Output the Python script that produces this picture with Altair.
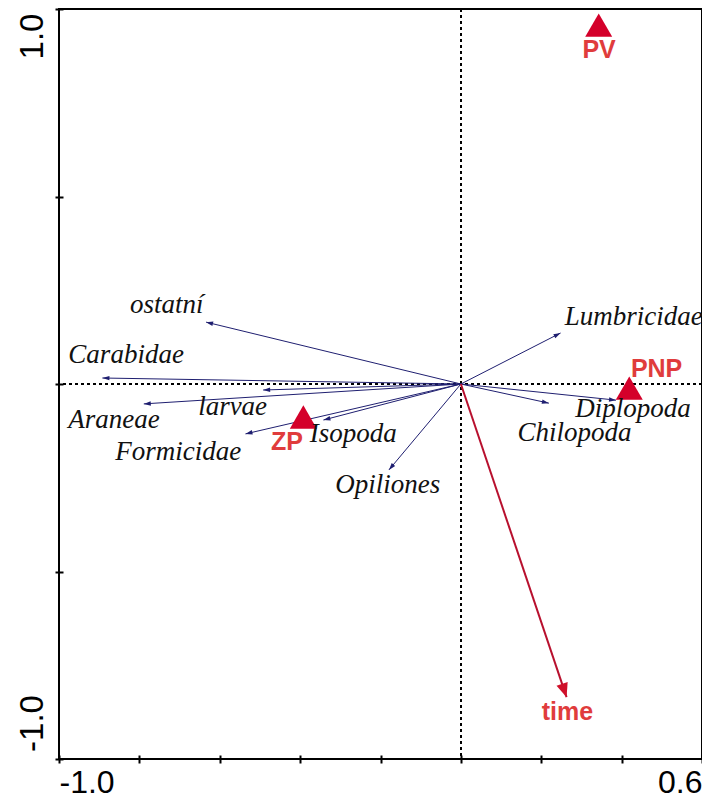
import math
import altair as alt
import pandas as pd

# ---- data ----
species = ["ostatní", "Carabidae", "larvae", "Araneae", "Formicidae",
           "Isopoda", "Opiliones", "Lumbricidae", "Diplopoda", "Chilopoda"]
species_x = [-0.634, -0.892, -0.492, -0.789, -0.536, -0.342, -0.179, 0.248, 0.386, 0.219]
species_y = [0.165, 0.016, -0.016, -0.053, -0.133, -0.096, -0.229, 0.136, -0.043, -0.051]
species_label_x = [-0.732, -0.833, -0.568, -0.863, -0.703, -0.268, -0.182, 0.43, 0.428, 0.283]
species_label_y = [0.189, 0.056, -0.083, -0.117, -0.203, -0.155, -0.291, 0.157, -0.089, -0.152]

env = ["time"]
env_x = [0.263]
env_y = [-0.835]
env_label_x = [0.265]
env_label_y = [-0.896]

samples = ["PV", "PNP", "ZP"]
sample_x = [0.343, 0.419, -0.392]
sample_y = [0.957, -0.011, -0.088]
sample_label_x = [0.344, 0.487, -0.433]
sample_label_y = [0.869, 0.019, -0.176]

x_ticks = [-1.0, -0.8, -0.6, -0.4, -0.2, 0.0, 0.2, 0.4, 0.6]
y_ticks = [-1.0, -0.5, 0.0, 0.5, 1.0]

# ---- layout ----
W, H = 643, 750
SX, SY = W / 1.6, H / 2.0


def heading(x, y):
    return (math.degrees(math.atan2(x * SX, y * SY)) + 360.0) % 360.0


sp = pd.DataFrame({"name": species, "x": species_x, "y": species_y,
                   "lx": species_label_x, "ly": species_label_y})
sp["ang"] = [heading(a, b) for a, b in zip(species_x, species_y)]
ev = pd.DataFrame({"name": env, "x": env_x, "y": env_y,
                   "lx": env_label_x, "ly": env_label_y})
ev["ang"] = [heading(a, b) for a, b in zip(env_x, env_y)]
sm = pd.DataFrame({"name": samples, "x": sample_x, "y": sample_y,
                   "lx": sample_label_x, "ly": sample_label_y})

xs = alt.Scale(domain=[-1.0, 0.6], nice=False, zero=False)
ys = alt.Scale(domain=[-1.0, 1.0], nice=False, zero=False)

AXIS_FONT = "Liberation Sans"
xaxis = alt.Axis(values=x_ticks, title=None, grid=False, domain=False,
                 offset=-4, tickSize=8, tickWidth=2, tickColor="black",
                 labelExpr="datum.value == -1 ? '-1.0' : (datum.value == 0.6 ? '0.6' : '')",
                 labelFlush=True, labelOverlap=False, labelFont=AXIS_FONT,
                 labelFontSize=32, labelColor="black", labelPadding=4,
                 labelBaseline="top")
yaxis = alt.Axis(values=y_ticks, title=None, grid=False, domain=False,
                 offset=-4, tickSize=8, tickWidth=2, tickColor="black",
                 labelExpr="datum.value == -1 ? '-1.0' : (datum.value == 1 ? '1.0' : '')",
                 labelAngle=-90, labelAlign="center", labelBaseline="alphabetic",
                 labelOverlap=False, labelFont=AXIS_FONT, labelFontSize=33,
                 labelColor="black", labelPadding=13,
                 labelOffset={"condition": {"test": "datum.value > 0", "value": 27},
                              "value": -36})

X = lambda f: alt.X(f, type="quantitative", scale=xs, axis=xaxis)
Y = lambda f: alt.Y(f, type="quantitative", scale=ys, axis=yaxis)

base = alt.Chart(sp)

vline = base.mark_rule(color="black", strokeWidth=1, strokeDash=[3, 3]).encode(
    x=alt.datum(0, scale=xs, axis=xaxis))
hline = base.mark_rule(color="black", strokeWidth=1, strokeDash=[3, 3]).encode(
    y=alt.datum(0, scale=ys, axis=yaxis))

NAVY = "#1f1f70"
sp_lines = base.mark_rule(color=NAVY, strokeWidth=1).transform_calculate(
    x0="0", y0="0").encode(x=X("x0"), y=Y("y0"), x2="x:Q", y2="y:Q")
sp_heads = base.mark_point(shape="M0,0L-0.32,1L0.32,1Z", filled=True, size=196,
                           color=NAVY, opacity=1).encode(
    x=X("x"), y=Y("y"), angle=alt.Angle("ang:Q", scale=None))
sp_text = base.mark_text(font="Liberation Serif", fontStyle="italic", fontSize=27,
                         align="center", baseline="alphabetic", color="#111111").encode(
    x=X("lx"), y=Y("ly"), text="name:N")

evb = alt.Chart(ev)
ev_line = evb.mark_rule(color="#b8102e", strokeWidth=2).transform_calculate(
    x0="0", y0="0").encode(x=X("x0"), y=Y("y0"), x2="x:Q", y2="y:Q")
ev_head = evb.mark_point(shape="M0,0L-0.42,1L0.42,1Z", filled=True, size=784,
                         color="#d0102a", opacity=1).encode(
    x=X("x"), y=Y("y"), angle=alt.Angle("ang:Q", scale=None))
ev_text = evb.mark_text(font="Liberation Sans", fontWeight="bold", fontSize=25,
                        align="center", baseline="alphabetic", color="#e03c3c").encode(
    x=X("lx"), y=Y("ly"), text="name:N")

smb = alt.Chart(sm)
sm_pts = smb.mark_point(shape="triangle-up", filled=True, size=729,
                        color="#d4002a", opacity=1).encode(x=X("x"), y=Y("y"))
sm_text = smb.mark_text(font="Liberation Sans", fontWeight="bold", fontSize=25,
                        align="center", baseline="alphabetic", color="#e03c3c").encode(
    x=X("lx"), y=Y("ly"), text="name:N")

chart = alt.layer(vline, hline, sp_lines, sp_heads, ev_line, ev_head,
                  sm_pts, sp_text, ev_text, sm_text).properties(
    width=W, height=H,
    autosize=alt.AutoSizeParams(type="none"),
    padding={"left": 51, "top": 1, "right": 0, "bottom": 34},
    background="white",
).configure_view(stroke="black", strokeWidth=2)

chart.save("out.html", embed_options={"renderer": "svg", "actions": False})
